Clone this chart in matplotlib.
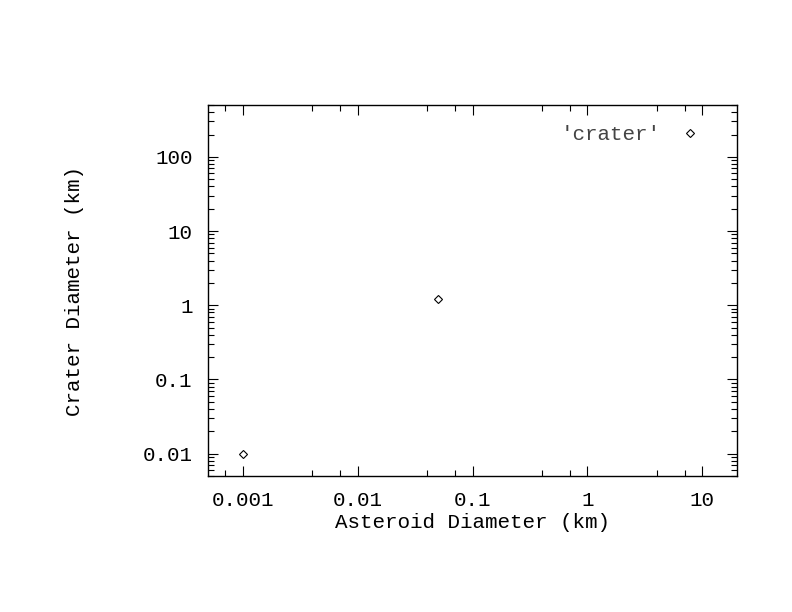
import matplotlib
matplotlib.use("Agg")
import matplotlib.pyplot as plt
from matplotlib.lines import Line2D
from matplotlib.ticker import LogLocator, NullFormatter

# data
asteroid_km = [0.001, 0.05]
crater_km = [0.01, 1.2]
x_ticks = [0.001, 0.01, 0.1, 1, 10]
x_labels = ["0.001", "0.01", "0.1", "1", "10"]
y_ticks = [0.01, 0.1, 1, 10, 100]
y_labels = ["0.01", "0.1", "1", "10", "100"]

plt.rcParams['font.family'] = ['Liberation Mono', 'DejaVu Sans Mono']
FS = 15

fig = plt.figure(figsize=(7.92, 6.12), dpi=100)
ax = fig.add_axes([0.2626, 0.2222, 0.668, 0.6062])

ax.plot(asteroid_km, crater_km, linestyle='none', marker='D', markersize=4.2,
        markerfacecolor='none', markeredgecolor='black', markeredgewidth=0.8)

ax.set_xscale('log')
ax.set_yscale('log')
ax.set_xlim(0.0005, 20)
ax.set_ylim(0.005, 500)
ax.set_xticks(x_ticks)
ax.set_xticklabels(x_labels)
ax.set_yticks(y_ticks)
ax.set_yticklabels(y_labels)
# x axis in the reference only has two minor ticks per decade
ax.xaxis.set_minor_locator(LogLocator(base=10, subs=[4, 7]))
ax.xaxis.set_minor_formatter(NullFormatter())
ax.yaxis.set_minor_formatter(NullFormatter())

ax.tick_params(which='both', direction='in', top=True, right=True, width=0.8,
               colors='black', labelsize=FS)
ax.tick_params(which='major', length=7, pad=11)
ax.tick_params(which='minor', length=4)
for s in ax.spines.values():
    s.set_linewidth(1.0)

ax.set_xlabel("Asteroid Diameter (km)", fontsize=FS, va='center')
ax.set_ylabel("Crater Diameter (km)", fontsize=FS, va='center')
ax.xaxis.set_label_coords(0.5, -0.124)
ax.yaxis.set_label_coords(-0.253, 0.5)

# legend as gnuplot draws it
handle = Line2D([], [], linestyle='none', marker='D', markersize=4.2,
                markerfacecolor='none', markeredgecolor='black', markeredgewidth=0.8)
leg = ax.legend([handle], ["'crater'"], loc='upper right', frameon=False,
                markerfirst=False, fontsize=FS, handlelength=1.0,
                handletextpad=0.88, borderpad=0, borderaxespad=0,
                bbox_to_anchor=(0.930, 0.946))
for t in leg.get_texts():
    t.set_color('#444444')

fig.savefig("out.png", dpi=100)
